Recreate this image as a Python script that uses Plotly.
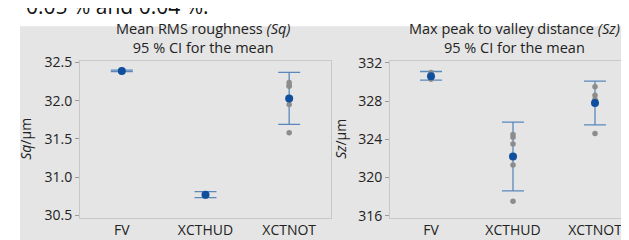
import plotly.graph_objects as go
from plotly.subplots import make_subplots

categories = ["FV", "XCTHUD", "XCTNOT"]

sq_mean = [32.39, 30.77, 32.03]
sq_ci_low = [32.38, 30.73, 31.69]
sq_ci_high = [32.40, 30.81, 32.37]
sq_points = {
    "FV": [32.39, 32.40, 32.38],
    "XCTHUD": [30.76, 30.78, 30.75],
    "XCTNOT": [32.24, 32.19, 32.20, 31.95, 31.58],
}

sz_mean = [330.6, 322.2, 327.8]
sz_ci_low = [330.2, 318.6, 325.5]
sz_ci_high = [331.1, 325.8, 330.1]
sz_points = {
    "FV": [331.0, 330.7, 330.3],
    "XCTHUD": [324.5, 323.5, 324.2, 321.3, 317.5],
    "XCTNOT": [329.5, 328.6, 328.2, 328.0, 324.6],
}

W, H = 629, 240
CI_COLOR = "#5a88bb"
MEAN_COLOR = "#0f4f9e"
PT_COLOR = "#8c8c8c"
FONT = "Open Sans"
TXT = "#222222"

def px(x):
    return x / W

def py(y):
    return (H - y) / H

fig = make_subplots(rows=1, cols=2)

def add_panel(col, means, lo, hi, pts):
    fig.add_trace(go.Scatter(
        x=categories, y=means, mode="markers",
        marker=dict(size=1, color="rgba(0,0,0,0)"),
        error_y=dict(type="data", symmetric=False,
                     array=[h - m for h, m in zip(hi, means)],
                     arrayminus=[m - l for m, l in zip(means, lo)],
                     color=CI_COLOR, thickness=1.3, width=11),
        showlegend=False, hoverinfo="skip"), row=1, col=col)
    xs, ys = [], []
    for c in categories:
        for v in pts[c]:
            xs.append(c)
            ys.append(v)
    fig.add_trace(go.Scatter(
        x=xs, y=ys, mode="markers",
        marker=dict(size=5.5, color=PT_COLOR),
        showlegend=False), row=1, col=col)
    fig.add_trace(go.Scatter(
        x=categories, y=means, mode="markers",
        marker=dict(size=8, color=MEAN_COLOR),
        showlegend=False), row=1, col=col)

add_panel(1, sq_mean, sq_ci_low, sq_ci_high, sq_points)
add_panel(2, sz_mean, sz_ci_low, sz_ci_high, sz_points)

axis_common = dict(showgrid=False, zeroline=False, showline=True,
                   linecolor="#c8c8c8", linewidth=1, mirror=True,
                   tickfont=dict(family=FONT, size=14, color=TXT))

fig.update_xaxes(axis_common, type="category", range=[-0.5, 2.5], ticks="")
fig.update_yaxes(axis_common, ticks="outside", ticklen=4, tickcolor="#9a9a9a")

fig.update_layout(
    xaxis=dict(domain=[px(72), px(323)]),
    xaxis2=dict(domain=[px(382), px(628)]),
    yaxis=dict(domain=[py(215), py(48)], range=[30.47, 32.52],
               tickvals=[30.5, 31.0, 31.5, 32.0, 32.5], ticktext=["30.5", "31.0", "31.5", "32.0", "32.5"]),
    yaxis2=dict(domain=[py(215), py(48)], range=[315.8, 332.2],
                tickvals=[316, 320, 324, 328, 332]),
)

fig.add_shape(type="rect", xref="paper", yref="paper",
              x0=px(12), x1=1.0, y0=0, y1=py(11),
              fillcolor="#e5e5e5", line=dict(width=0), layer="below")

annotations = [
    dict(text="0.05 % and 0.04 %.", x=px(16), y=py(6), xanchor="left", yanchor="bottom",
         font=dict(family=FONT, size=21, color="#111111")),
    dict(text="Mean RMS roughness <i>(Sq)</i><br>95 % CI for the mean", x=px(195), y=py(23.5),
         xanchor="center", yanchor="middle", align="center",
         font=dict(family=FONT, size=14.5, color=TXT)),
    dict(text="Max peak to valley distance <i>(Sz)</i><br>95 % CI for the mean", x=px(506), y=py(23.5),
         xanchor="center", yanchor="middle", align="center",
         font=dict(family=FONT, size=14.5, color=TXT)),
    dict(text="<i>Sq</i>/µm", x=px(18), y=py(131), xanchor="center", yanchor="middle", textangle=-90,
         font=dict(family=FONT, size=14, color=TXT)),
    dict(text="<i>Sz</i>/µm", x=px(333), y=py(131), xanchor="center", yanchor="middle", textangle=-90,
         font=dict(family=FONT, size=14, color=TXT)),
]
for a in annotations:
    a.update(xref="paper", yref="paper", showarrow=False)
fig.update_layout(annotations=annotations)

fig.update_layout(width=W, height=H, margin=dict(l=0, r=0, t=0, b=0),
                  paper_bgcolor="white", plot_bgcolor="white",
                  font=dict(family=FONT, color=TXT))

fig.write_html("out.html")
